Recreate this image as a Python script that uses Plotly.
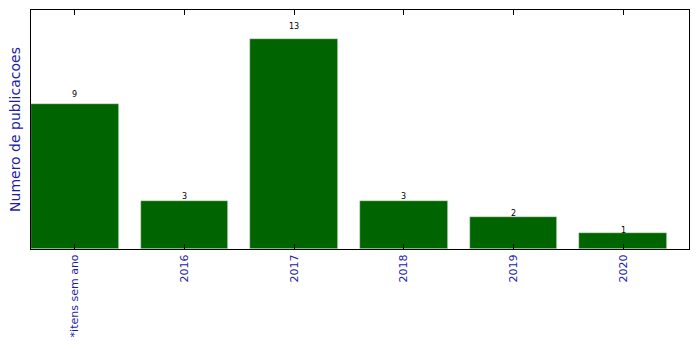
import plotly.graph_objects as go

categories = ["*itens sem ano", "2016", "2017", "2018", "2019", "2020"]
values = [9, 3, 13, 3, 2, 1]

fig = go.Figure()
fig.add_trace(go.Bar(
    x=list(range(len(categories))), y=values, width=0.8,
    marker=dict(color="#006400", line=dict(color="#d8e8d8", width=0.6)),
    showlegend=False, hoverinfo="skip",
))
for i, v in enumerate(values):
    fig.add_annotation(x=i, y=v * 1.05, text=str(v), showarrow=False, yshift=2,
                       yanchor="middle",
                       font=dict(size=8, color="black", family="DejaVu Sans"))

fig.update_layout(
    width=699, height=349,
    margin=dict(l=31, r=10, t=10, b=100),
    plot_bgcolor="white", paper_bgcolor="white",
    font=dict(family="DejaVu Sans"),
    bargap=0,
    xaxis=dict(
        range=[-0.4, 5.6], tickmode="array",
        tickvals=list(range(len(categories))), ticktext=categories,
        tickangle=-90, ticks="inside", ticklen=5, tickcolor="black",
        showline=True, linecolor="black", linewidth=1, mirror="ticks",
        showgrid=False, zeroline=False,
        tickfont=dict(size=11, color="#1c1ca8"),
    ),
    yaxis=dict(
        range=[0, 14.82], showticklabels=False, ticks="",
        showline=True, linecolor="black", linewidth=1, mirror=True,
        showgrid=False, zeroline=False,
        title=dict(text="Numero de publicacoes", standoff=6,
                   font=dict(size=14, color="#1c1ca8")),
    ),
)
fig.write_html("out.html")
